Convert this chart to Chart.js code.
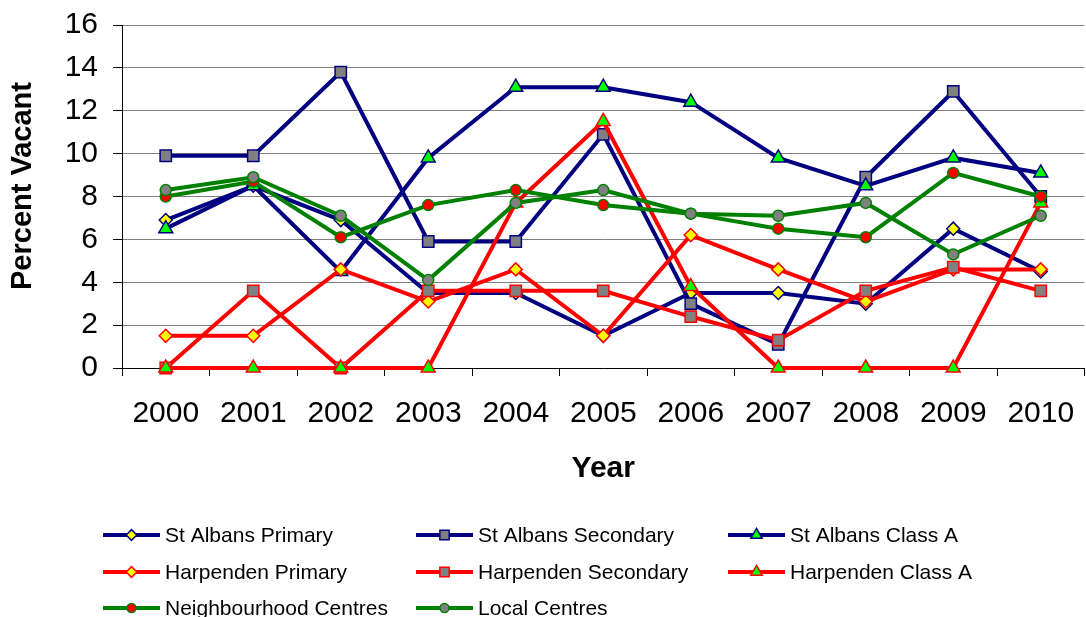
<!DOCTYPE html>
<html>
<head>
<meta charset="utf-8">
<script src="https://cdn.jsdelivr.net/npm/chart.js@4/dist/chart.umd.min.js"></script>
<style>
  html, body { margin: 0; padding: 0; background: #fff; overflow: hidden; }
  #wrap { width: 1094px; height: 617px; position: relative; }
</style>
</head>
<body>
<div id="wrap"><canvas id="c" width="1094" height="617"></canvas></div>
<script>
// Vacancy rates by centre type, 2000-2010
const years = ['2000', '2001', '2002', '2003', '2004', '2005', '2006', '2007', '2008', '2009', '2010'];
const stAlbansPrimary    = [6.9, 8.5, 6.9, 3.5, 3.5, 1.5, 3.5, 3.5, 3.0, 6.5, 4.5];
const stAlbansSecondary  = [9.9, 9.9, 13.8, 5.9, 5.9, 10.9, 3.0, 1.1, 8.9, 12.9, 8.0];
const stAlbansClassA     = [6.5, 8.5, 4.5, 9.8, 13.1, 13.1, 12.4, 9.8, 8.5, 9.8, 9.1];
const harpendenPrimary   = [1.5, 1.5, 4.6, 3.1, 4.6, 1.5, 6.2, 4.6, 3.1, 4.6, 4.6];
const harpendenSecondary = [0, 3.6, 0, 3.6, 3.6, 3.6, 2.4, 1.3, 3.6, 4.7, 3.6];
const harpendenClassA    = [0, 0, 0, 0, 7.7, 11.5, 3.8, 0, 0, 0, 7.7];
const neighbourhoodCentres = [8.0, 8.7, 6.1, 7.6, 8.3, 7.6, 7.2, 6.5, 6.1, 9.1, 8.0];
const localCentres       = [8.3, 8.9, 7.1, 4.1, 7.7, 8.3, 7.2, 7.1, 7.7, 5.3, 7.1];
const yTicks = [0, 2, 4, 6, 8, 10, 12, 14, 16];

const NAVY = '#000080', RED = '#FF0000', GREEN = '#008000';
const YELLOW = '#FFFF00', GREY = '#808080', LIME = '#00FF00';
const FONT = '"Liberation Sans", Arial, sans-serif';

function series(label, data, line, style, fill, radius) {
  return {
    label, data,
    borderColor: line, backgroundColor: line, borderWidth: 4,
    pointStyle: style, pointRadius: radius, pointHoverRadius: radius,
    pointBackgroundColor: fill, pointBorderColor: line, pointBorderWidth: 1.5,
    tension: 0, clip: false
  };
}

const datasets = [
  series('St Albans Primary', stAlbansPrimary, NAVY, 'rectRot', YELLOW, 6.5),
  series('St Albans Secondary', stAlbansSecondary, NAVY, 'rect', GREY, 8),
  series('St Albans Class A', stAlbansClassA, NAVY, 'triangle', LIME, 8),
  series('Harpenden Primary', harpendenPrimary, RED, 'rectRot', YELLOW, 6.5),
  series('Harpenden Secondary', harpendenSecondary, RED, 'rect', GREY, 8),
  series('Harpenden Class A', harpendenClassA, RED, 'triangle', LIME, 8),
  series('Neighbourhood Centres', neighbourhoodCentres, GREEN, 'circle', RED, 5.5),
  series('Local Centres', localCentres, GREEN, 'circle', GREY, 5.5)
];
// later series sit on top of earlier ones
datasets.forEach((d, i) => { d.order = -i; });

// vertical axis caption, set a little above the middle of the plot
const yCaptionPlugin = {
  id: 'yCaption',
  afterDraw(chart) {
    const ctx = chart.ctx;
    ctx.save();
    ctx.translate(23, 186);
    ctx.rotate(-Math.PI / 2);
    ctx.fillStyle = '#000';
    ctx.font = 'bold 29px ' + FONT;
    ctx.textAlign = 'center';
    ctx.textBaseline = 'middle';
    ctx.fillText('Percent Vacant', 0, 0);
    ctx.restore();
  }
};

// three-column key under the plot
const keyPlugin = {
  id: 'threeColumnKey',
  afterDraw(chart) {
    const ctx = chart.ctx;
    const colX = [103, 416, 728];
    const rowY = [535, 572, 608];
    const lineLen = 57;
    ctx.save();
    chart.data.datasets.forEach((ds, i) => {
      const x = colX[i % 3], y = rowY[Math.floor(i / 3)];
      ctx.strokeStyle = ds.borderColor;
      ctx.lineWidth = 4;
      ctx.beginPath();
      ctx.moveTo(x, y);
      ctx.lineTo(x + lineLen, y);
      ctx.stroke();
      ctx.fillStyle = ds.pointBackgroundColor;
      ctx.strokeStyle = ds.pointBorderColor;
      ctx.lineWidth = 1.5;
      Chart.helpers.drawPoint(ctx, {
        pointStyle: ds.pointStyle, radius: ds.pointRadius * 0.82,
        borderWidth: 1.5, rotation: 0
      }, x + lineLen / 2, y);
      ctx.fillStyle = '#000';
      ctx.font = '21px ' + FONT;
      ctx.textBaseline = 'middle';
      ctx.textAlign = 'left';
      ctx.fillText(ds.label, x + lineLen + 5, y + 1);
    });
    ctx.restore();
  }
};

new Chart(document.getElementById('c'), {
  type: 'line',
  data: { labels: years, datasets },
  plugins: [yCaptionPlugin, keyPlugin],
  options: {
    responsive: false,
    animation: false,
    events: [],
    layout: { padding: { top: 25, right: 1, bottom: 127, left: 0 } },
    plugins: { legend: { display: false }, tooltip: { enabled: false } },
    scales: {
      x: {
        type: 'category',
        offset: true,
        grid: { offset: true, drawOnChartArea: false, tickLength: 8, tickColor: '#000', tickWidth: 1 },
        border: { color: '#000', width: 1 },
        ticks: { color: '#000', font: { family: FONT, size: 30 }, padding: 20, maxRotation: 0, autoSkip: false },
        title: { display: true, text: 'Year', color: '#000', font: { family: FONT, size: 30, weight: 'bold' }, padding: { top: 0, bottom: 3 } },
        afterFit(s) { s.height = 122; s.paddingLeft = 0; s.paddingRight = 0; }
      },
      y: {
        min: 0, max: 16,
        afterBuildTicks(s) { s.ticks = yTicks.map(v => ({ value: v })); },
        grid: { color: GREY, lineWidth: 1, tickLength: 9, tickColor: '#000' },
        border: { color: '#000', width: 1 },
        ticks: { color: '#000', font: { family: FONT, size: 30 }, padding: 15 },
        title: { display: false },
        afterFit(s) { s.width = 122; s.paddingTop = 0; s.paddingBottom = 0; }
      }
    }
  }
});
</script>
</body>
</html>
